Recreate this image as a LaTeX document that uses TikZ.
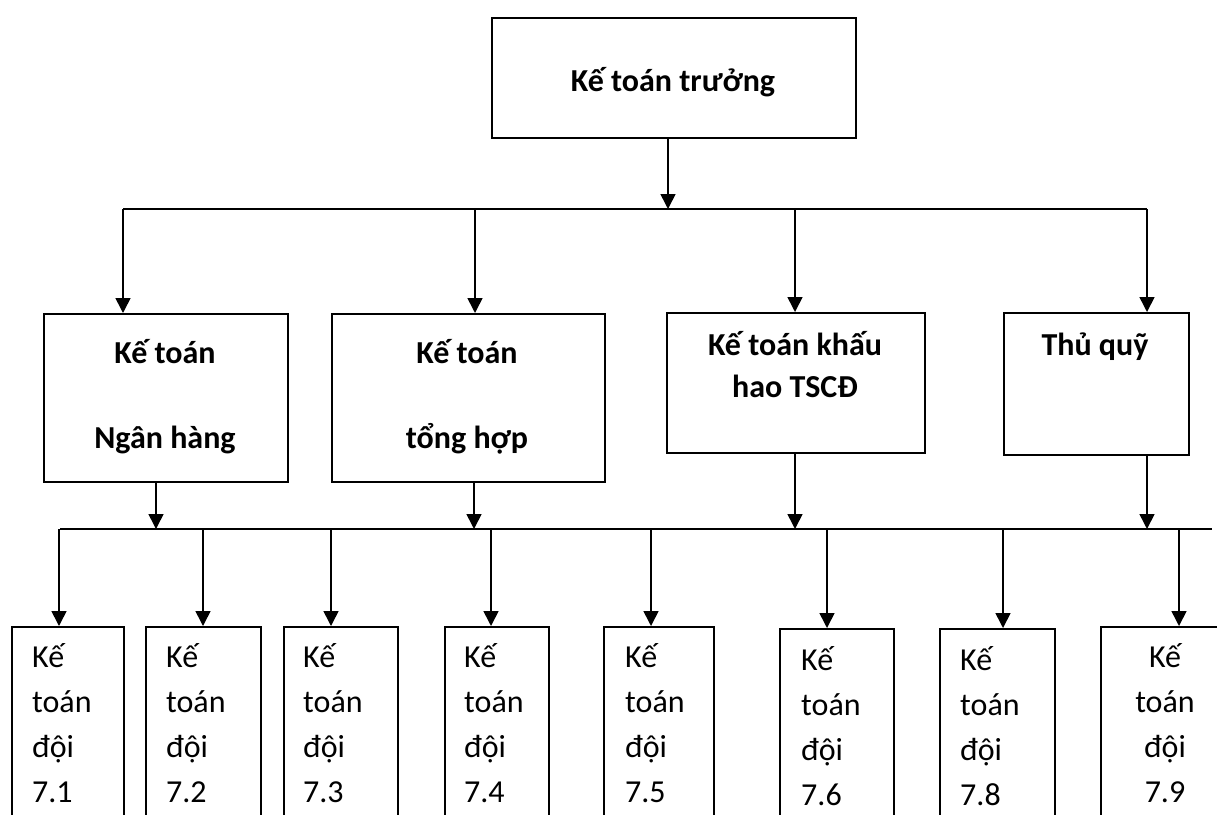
\documentclass[tikz,border=0pt]{standalone}
\usepackage{fontspec}
\setmainfont{Carlito}
\usetikzlibrary{arrows.meta}

% stacked lines, baseline of the node = baseline of the first line
\newcommand\leftlines[1]{\vtop{\baselineskip=45pt\lineskiplimit=-100pt\halign{##\hfil\cr#1\crcr}}}
\newcommand\midlines[1]{\vtop{\baselineskip=45pt\lineskiplimit=-100pt\halign{\hfil##\hfil\cr#1\crcr}}}
\newcommand\boldlines[2]{\vtop{\baselineskip=#1\lineskiplimit=-100pt\halign{\hfil##\hfil\cr#2\crcr}}}

\begin{document}
\begin{tikzpicture}[x=1pt,y=-1pt,
  box/.style={draw, line width=1.6pt, inner sep=0pt, anchor=north west},
  headtxt/.style={font=\bfseries\fontsize{32}{40}\selectfont, inner sep=0pt, anchor=base},
  teamtxt/.style={font=\fontsize{32}{45}\selectfont, inner sep=0pt, anchor=base west},
  wire/.style={line width=1.6pt},
  arr/.style={line width=1.6pt, -{Triangle[length=15pt,width=15pt]}}]

\path[use as bounding box] (0,0) rectangle (1217,814);
\clip (0,0) rectangle (1217,814);

% chief accountant
\node[box, minimum width=364pt, minimum height=120pt] (chief) at (491,17) {};
\node[headtxt] (chieftxt) at (673,91) {Kế toán trưởng};

% second level
\node[box, minimum width=244pt, minimum height=168pt] (bank) at (43,313) {};
\node[box, minimum width=273pt, minimum height=168pt] (gen)  at (331,313) {};
\node[box, minimum width=258pt, minimum height=140pt] (dep)  at (666,312) {};
\node[box, minimum width=185pt, minimum height=142pt] (cash) at (1003,312) {};

\node[headtxt] (banktxt) at (165,363) {\boldlines{85pt}{Kế toán\cr Ngân hàng}};
\node[headtxt] (gentxt)  at (467,363) {\boldlines{85pt}{Kế toán\cr tổng hợp}};
\node[headtxt] (deptxt)  at (795,355) {\boldlines{42pt}{Kế toán khấu\cr hao TSCĐ}};
\node[headtxt] (cashtxt) at (1095,355) {Thủ quỹ};

% upper bus
\coordinate (c0) at (668,209);
\coordinate (d1) at (123,209);
\coordinate (d2) at (475,209);
\coordinate (d3) at (795,209);
\coordinate (d4) at (1147,209);
\draw[wire] (d1) -- (d4);
\draw[arr] (c0 |- chief.south) -- (c0);
\draw[arr] (d1) -- (d1 |- bank.north);
\draw[arr] (d2) -- (d2 |- gen.north);
\draw[arr] (d3) -- (d3 |- dep.north);
\draw[arr] (d4) -- (d4 |- cash.north);

% team boxes
\node[box, minimum width=112pt, minimum height=220pt] (t1) at (11,626) {};
\node[box, minimum width=115pt, minimum height=220pt] (t2) at (145,626) {};
\node[box, minimum width=114pt, minimum height=220pt] (t3) at (283,626) {};
\node[box, minimum width=104pt, minimum height=220pt] (t4) at (444,626) {};
\node[box, minimum width=110pt, minimum height=220pt] (t5) at (603,626) {};
\node[box, minimum width=114pt, minimum height=220pt] (t6) at (779,628) {};
\node[box, minimum width=115pt, minimum height=220pt] (t8) at (939,628) {};
\node[box, minimum width=140pt, minimum height=220pt] (t9) at (1100,626) {};

\node[teamtxt] (t1txt) at (32,667)  {\leftlines{Kế\cr toán\cr đội\cr 7.1}};
\node[teamtxt] (t2txt) at (166,667) {\leftlines{Kế\cr toán\cr đội\cr 7.2}};
\node[teamtxt] (t3txt) at (303,667) {\leftlines{Kế\cr toán\cr đội\cr 7.3}};
\node[teamtxt] (t4txt) at (464,667) {\leftlines{Kế\cr toán\cr đội\cr 7.4}};
\node[teamtxt] (t5txt) at (625,667) {\leftlines{Kế\cr toán\cr đội\cr 7.5}};
\node[teamtxt] (t6txt) at (801,670) {\leftlines{Kế\cr toán\cr đội\cr 7.6}};
\node[teamtxt] (t8txt) at (960,670) {\leftlines{Kế\cr toán\cr đội\cr 7.8}};
\node[teamtxt, anchor=base] (t9txt) at (1165,667) {\midlines{Kế\cr toán\cr đội\cr 7.9}};

% lower bus
\coordinate (busL) at (60,529);
\coordinate (busR) at (1212,529);
\draw[wire] (busL) -- (busR);
\coordinate (u1) at (156,529);
\coordinate (u2) at (474,529);
\coordinate (u3) at (795,529);
\coordinate (u4) at (1147,529);
\draw[arr] (u1 |- bank.south) -- (u1);
\draw[arr] (u2 |- gen.south) -- (u2);
\draw[arr] (u3 |- dep.south) -- (u3);
\draw[arr] (u4 |- cash.south) -- (u4);

\foreach \x/\t in {59/t1, 203/t2, 331/t3, 491/t4, 651/t5, 827/t6, 1003/t8, 1179/t9}{
  \coordinate (v) at (\x,529);
  \draw[arr] (v) -- (v |- \t.north);
}
\end{tikzpicture}
\end{document}
